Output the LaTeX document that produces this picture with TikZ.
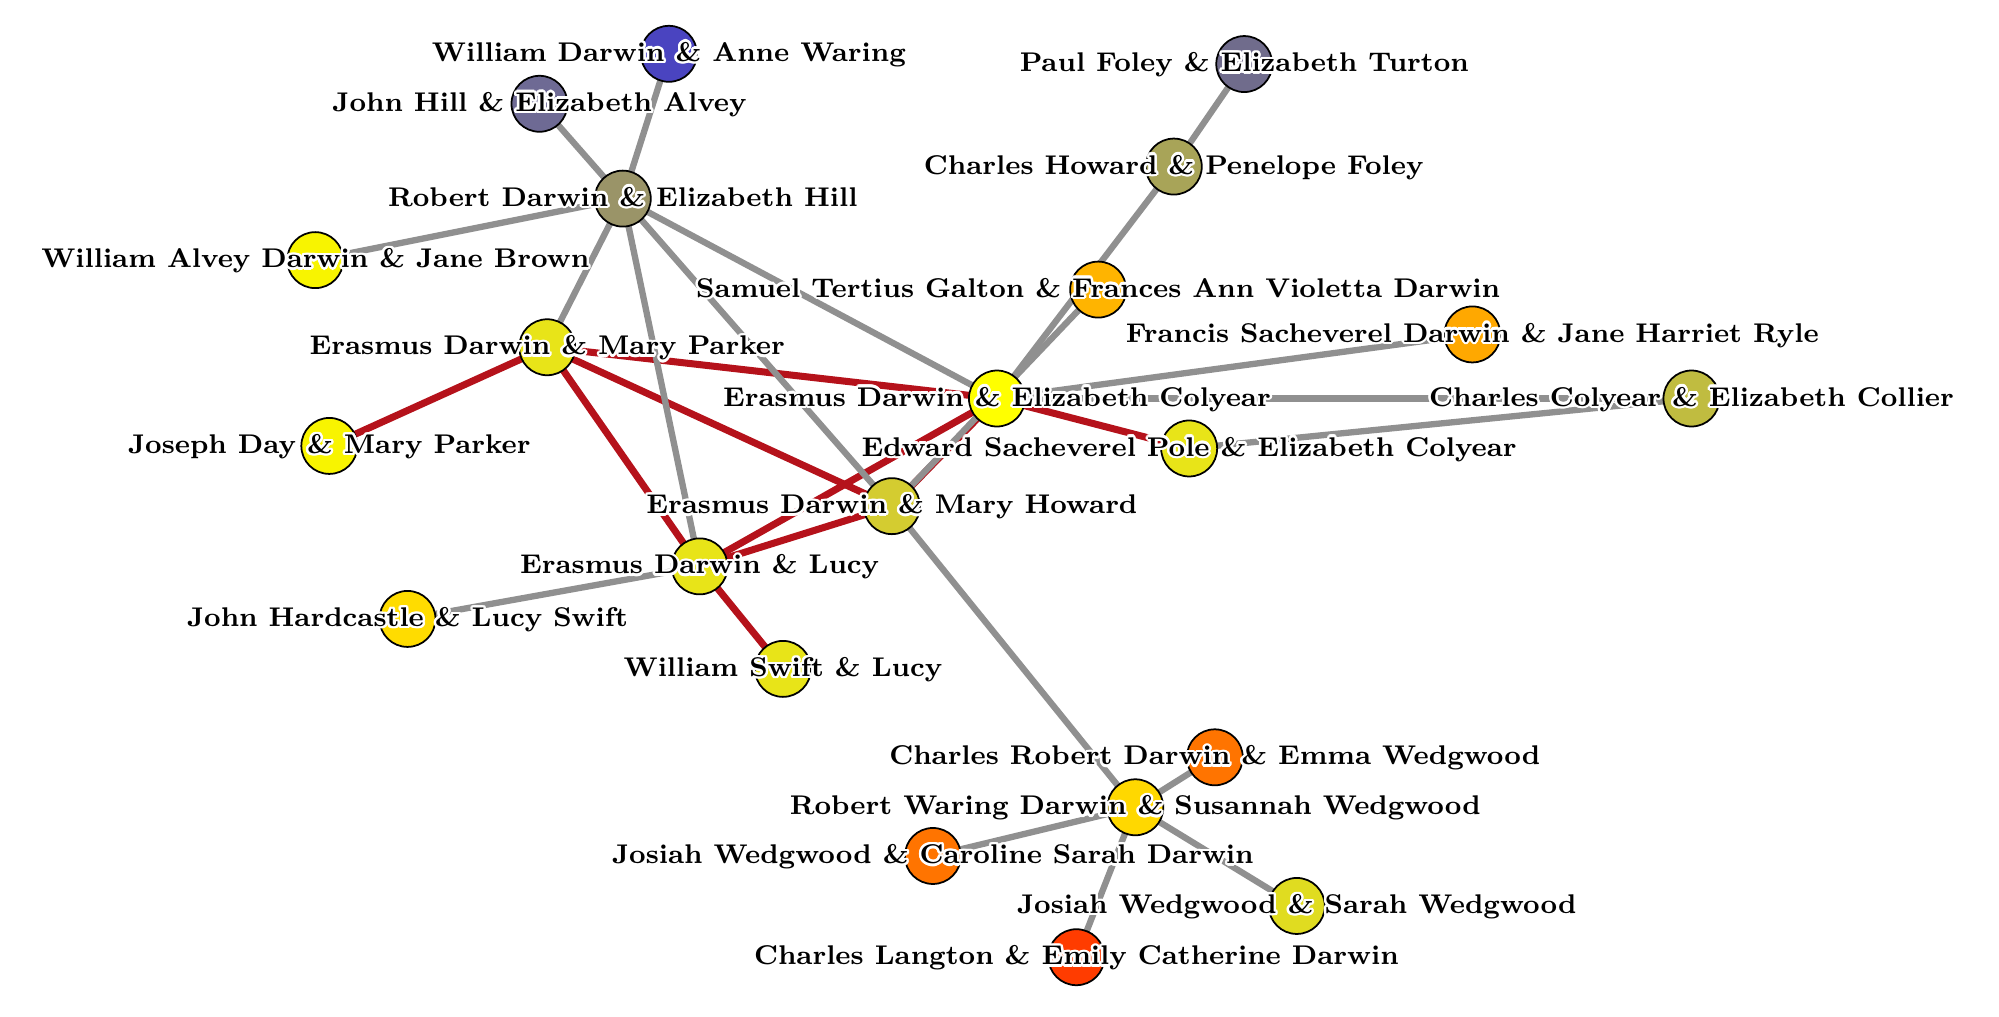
\documentclass[tikz,border=0pt]{standalone}
\usepackage[copies]{contour}
\usepackage{xcolor}
\contourlength{0.7pt}
\definecolor{kingray}{HTML}{909090}
\definecolor{wedred}{HTML}{B5121B}
\tikzset{>=latex}
\tikzset{
  kin/.style={line width=1.8pt, draw=kingray},
  wed/.style={line width=2pt, draw=wedred},
  couple/.style={circle, draw=black, line width=0.5pt, minimum size=0.56cm, inner sep=0pt},
  couplelabel/.style={font=\fontsize{7.7}{9}\selectfont\bfseries, inner sep=0pt, anchor=mid}
}
\newcommand{\couplename}[1]{\contour{white}{#1}}

\begin{document}
\begin{tikzpicture}[x=0.01282cm, y=-0.01282cm]
  \useasboundingbox (0,0) rectangle (1560,793);
  % Vertices
  \coordinate (wdaw) at (522,42);
  \coordinate (jhea) at (421,81);
  \coordinate (rdeh) at (486,155);
  \coordinate (wadjb) at (246,203);
  \coordinate (edmp) at (427,271);
  \coordinate (jdmp) at (257,348);
  \coordinate (edec) at (778,311);
  \coordinate (espec) at (928,350);
  \coordinate (edmh) at (696,395);
  \coordinate (edl) at (546,442);
  \coordinate (jhls) at (318,483);
  \coordinate (wsl) at (611,522);
  \coordinate (pfet) at (971,50);
  \coordinate (chpf) at (916,130);
  \coordinate (stg) at (857,226);
  \coordinate (fsdjhr) at (1149,261);
  \coordinate (ccec) at (1320,311);
  \coordinate (crdew) at (948,591);
  \coordinate (rwdsw) at (886,630);
  \coordinate (jwcsd) at (728,668);
  \coordinate (jwsw) at (1012,707);
  \coordinate (clecd) at (840,747);

  % Lines
  \draw[wed] (edmp) -- (jdmp);
  \draw[wed] (edmp) -- (edec);
  \draw[wed] (edmp) -- (edmh);
  \draw[wed] (edmp) -- (edl);
  \draw[wed] (edec) -- (espec);
  \draw[wed] (edec) -- (edl);
  \draw[wed] (edec) -- (edmh);
  \draw[wed] (edmh) -- (edl);
  \draw[wed] (edl) -- (wsl);

  \draw[kin] (wdaw) -- (rdeh);
  \draw[kin] (jhea) -- (rdeh);
  \draw[kin] (rdeh) -- (wadjb);
  \draw[kin] (rdeh) -- (edmp);
  \draw[kin] (rdeh) -- (edl);
  \draw[kin] (rdeh) -- (edmh);
  \draw[kin] (rdeh) -- (edec);
  \draw[kin] (pfet) -- (chpf);
  \draw[kin] (chpf) -- (edec);
  \draw[kin] (stg) -- (edmh);
  \draw[kin] (edec) -- (fsdjhr);
  \draw[kin] (edec) -- (ccec);
  \draw[kin] (espec) -- (ccec);
  \draw[kin] (edmh) -- (rwdsw);
  \draw[kin] (edl) -- (jhls);
  \draw[kin] (rwdsw) -- (crdew);
  \draw[kin] (rwdsw) -- (jwcsd);
  \draw[kin] (rwdsw) -- (jwsw);
  \draw[kin] (rwdsw) -- (clecd);

  % Couples
  \node[couple, fill={rgb,255:red,74;green,68;blue,192}] (wdaw-c) at (wdaw) {};
  \node[couple, fill={rgb,255:red,110;green,106;blue,148}] (jhea-c) at (jhea) {};
  \node[couple, fill={rgb,255:red,154;green,148;blue,104}] (rdeh-c) at (rdeh) {};
  \node[couple, fill={rgb,255:red,248;green,244;blue,0}] (wadjb-c) at (wadjb) {};
  \node[couple, fill={rgb,255:red,232;green,228;blue,24}] (edmp-c) at (edmp) {};
  \node[couple, fill={rgb,255:red,248;green,244;blue,0}] (jdmp-c) at (jdmp) {};
  \node[couple, fill={rgb,255:red,255;green,255;blue,0}] (edec-c) at (edec) {};
  \node[couple, fill={rgb,255:red,232;green,228;blue,24}] (espec-c) at (espec) {};
  \node[couple, fill={rgb,255:red,212;green,204;blue,48}] (edmh-c) at (edmh) {};
  \node[couple, fill={rgb,255:red,232;green,228;blue,24}] (edl-c) at (edl) {};
  \node[couple, fill={rgb,255:red,255;green,220;blue,0}] (jhls-c) at (jhls) {};
  \node[couple, fill={rgb,255:red,232;green,228;blue,24}] (wsl-c) at (wsl) {};
  \node[couple, fill={rgb,255:red,112;green,108;blue,140}] (pfet-c) at (pfet) {};
  \node[couple, fill={rgb,255:red,168;green,164;blue,88}] (chpf-c) at (chpf) {};
  \node[couple, fill={rgb,255:red,255;green,180;blue,0}] (stg-c) at (stg) {};
  \node[couple, fill={rgb,255:red,255;green,168;blue,0}] (fsdjhr-c) at (fsdjhr) {};
  \node[couple, fill={rgb,255:red,192;green,188;blue,64}] (ccec-c) at (ccec) {};
  \node[couple, fill={rgb,255:red,255;green,116;blue,0}] (crdew-c) at (crdew) {};
  \node[couple, fill={rgb,255:red,255;green,216;blue,0}] (rwdsw-c) at (rwdsw) {};
  \node[couple, fill={rgb,255:red,255;green,116;blue,0}] (jwcsd-c) at (jwcsd) {};
  \node[couple, fill={rgb,255:red,224;green,220;blue,32}] (jwsw-c) at (jwsw) {};
  \node[couple, fill={rgb,255:red,255;green,60;blue,0}] (clecd-c) at (clecd) {};

  % Label
  \node[couplelabel] at (wdaw) {\couplename{William Darwin \& Anne Waring}};
  \node[couplelabel] at (jhea) {\couplename{John Hill \& Elizabeth Alvey}};
  \node[couplelabel] at (rdeh) {\couplename{Robert Darwin \& Elizabeth Hill}};
  \node[couplelabel] at (wadjb) {\couplename{William Alvey Darwin \& Jane Brown}};
  \node[couplelabel] at (edmp) {\couplename{Erasmus Darwin \& Mary Parker}};
  \node[couplelabel] at (jdmp) {\couplename{Joseph Day \& Mary Parker}};
  \node[couplelabel] at (edec) {\couplename{Erasmus Darwin \& Elizabeth Colyear}};
  \node[couplelabel] at (espec) {\couplename{Edward Sacheverel Pole \& Elizabeth Colyear}};
  \node[couplelabel] at (edmh) {\couplename{Erasmus Darwin \& Mary Howard}};
  \node[couplelabel] at (edl) {\couplename{Erasmus Darwin \& Lucy}};
  \node[couplelabel] at (jhls) {\couplename{John Hardcastle \& Lucy Swift}};
  \node[couplelabel] at (wsl) {\couplename{William Swift \& Lucy}};
  \node[couplelabel] at (pfet) {\couplename{Paul Foley \& Elizabeth Turton}};
  \node[couplelabel] at (chpf) {\couplename{Charles Howard \& Penelope Foley}};
  \node[couplelabel] at (stg) {\couplename{Samuel Tertius Galton \& Frances Ann Violetta Darwin}};
  \node[couplelabel] at (fsdjhr) {\couplename{Francis Sacheverel Darwin \& Jane Harriet Ryle}};
  \node[couplelabel] at (ccec) {\couplename{Charles Colyear \& Elizabeth Collier}};
  \node[couplelabel] at (crdew) {\couplename{Charles Robert Darwin \& Emma Wedgwood}};
  \node[couplelabel] at (rwdsw) {\couplename{Robert Waring Darwin \& Susannah Wedgwood}};
  \node[couplelabel] at (jwcsd) {\couplename{Josiah Wedgwood \& Caroline Sarah Darwin}};
  \node[couplelabel] at (jwsw) {\couplename{Josiah Wedgwood \& Sarah Wedgwood}};
  \node[couplelabel] at (clecd) {\couplename{Charles Langton \& Emily Catherine Darwin}};
\end{tikzpicture}
\end{document}
